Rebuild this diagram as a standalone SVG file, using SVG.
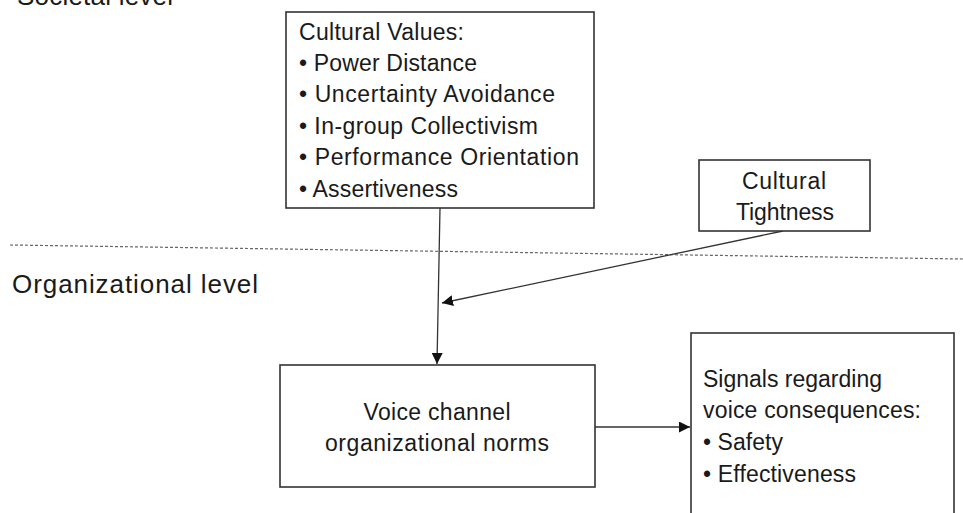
<svg xmlns="http://www.w3.org/2000/svg" width="963" height="513" viewBox="0 0 963 513">
<style>
  .box { fill: #ffffff; stroke: #333333; stroke-width: 1.6; }
  .t { font-family: "Liberation Sans", Arial, sans-serif; font-size: 23px; fill: #1a1a1a; }
  .lvl { font-family: "Liberation Sans", Arial, sans-serif; font-size: 26px; fill: #1a1a1a; }
  .c { text-anchor: middle; }
  .edge { stroke: #333333; stroke-width: 1.3; fill: none; }
  .sep { stroke: #666666; stroke-width: 1.2; stroke-dasharray: 3 2; fill: none; }
</style>
<defs>
  <marker id="arr" viewBox="0 0 10 10" refX="10" refY="5" markerWidth="11" markerHeight="11" markerUnits="userSpaceOnUse" orient="auto">
    <path d="M0,0 L10,5 L0,10 z" fill="#111111"/>
  </marker>
</defs>
<rect width="963" height="513" fill="#ffffff"/>

<g id="labels">
  <text class="lvl" x="17" y="5" textLength="156">Societal level</text>
  <text class="lvl" x="12" y="293" textLength="246">Organizational level</text>
  <line class="sep" x1="10" y1="245" x2="963" y2="259"/>
</g>

<g id="connectors">
  <line class="edge" x1="440" y1="208" x2="437" y2="364" marker-end="url(#arr)"/>
  <line class="edge" x1="783" y1="231" x2="442" y2="303" marker-end="url(#arr)"/>
  <line class="edge" x1="595" y1="427" x2="690" y2="427" marker-end="url(#arr)"/>
</g>

<g id="cultural-values">
  <rect class="box" x="286" y="12" width="308" height="196"/>
  <text class="t" x="299" y="40" textLength="165">Cultural Values:</text>
  <text class="t" x="299" y="71" textLength="178">• Power Distance</text>
  <text class="t" x="299" y="102" textLength="256">• Uncertainty Avoidance</text>
  <text class="t" x="299" y="134" textLength="239">• In-group Collectivism</text>
  <text class="t" x="299" y="165" textLength="280">• Performance Orientation</text>
  <text class="t" x="299" y="197" textLength="159">• Assertiveness</text>
</g>

<g id="cultural-tightness">
  <rect class="box" x="699" y="160" width="171" height="71"/>
  <text class="t c" x="784" y="189" textLength="84">Cultural</text>
  <text class="t c" x="785" y="220" textLength="98">Tightness</text>
</g>

<g id="voice-norms">
  <rect class="box" x="280" y="365" width="315" height="122"/>
  <text class="t c" x="437" y="420" textLength="147">Voice channel</text>
  <text class="t c" x="437" y="451" textLength="224">organizational norms</text>
</g>

<g id="signals">
  <rect class="box" x="691" y="333" width="263" height="200"/>
  <text class="t" x="703" y="387" textLength="179">Signals regarding</text>
  <text class="t" x="703" y="418" textLength="218">voice consequences:</text>
  <text class="t" x="703" y="450" textLength="80">• Safety</text>
  <text class="t" x="703" y="482" textLength="153">• Effectiveness</text>
</g>
</svg>
